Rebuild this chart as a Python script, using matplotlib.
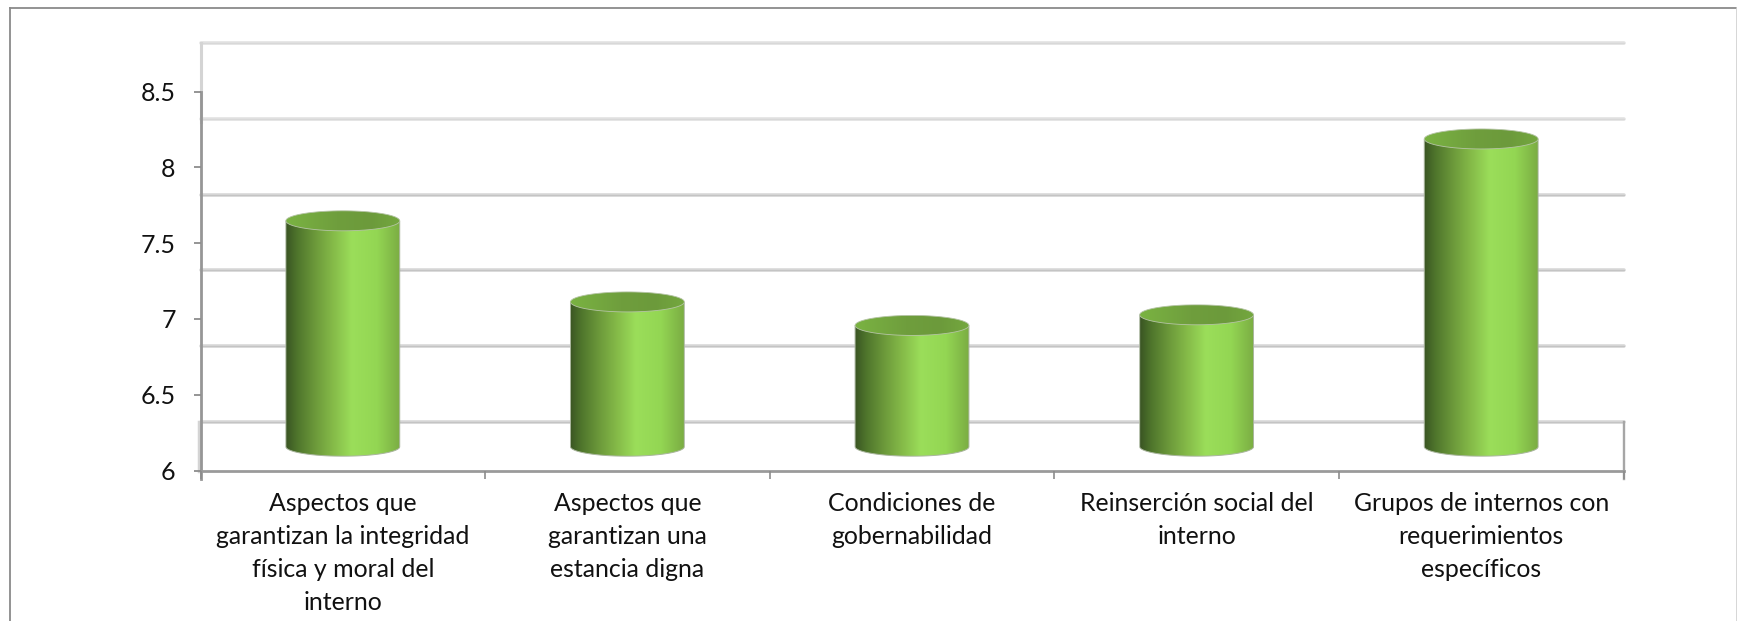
import numpy as np
import matplotlib
matplotlib.use("Agg")
import matplotlib.pyplot as plt
from matplotlib.colors import LinearSegmentedColormap
from matplotlib.lines import Line2D
from matplotlib.path import Path
from matplotlib.patches import PathPatch

categories = [
    "Aspectos que\ngarantizan la integridad\nfísica y moral del\ninterno",
    "Aspectos que\ngarantizan una\nestancia digna",
    "Condiciones de\ngobernabilidad",
    "Reinserción social del\ninterno",
    "Grupos de internos con\nrequerimientos\nespecíficos",
]
values = [7.49, 6.955, 6.80, 6.87, 8.03]
y_ticks = [6, 6.5, 7, 7.5, 8, 8.5]
y_labels = ["6", "6.5", "7", "7.5", "8", "8.5"]

W, H = 1737, 621
plt.rcParams["font.family"] = ["Lato", "DejaVu Sans"]
fig = plt.figure(figsize=(W / 100, H / 100), dpi=100, facecolor="white")
L, R, T, B = 200.5, 1623.5, 43, 470.5
ax = fig.add_axes([L / W, 1 - B / H, (R - L) / W, (B - T) / H])
px = 151.6                      # pixels per y unit
ax.set_ylim(6, 6 + (B - T) / px)
ax.set_xlim(-0.5, 4.5)
ax.patch.set_alpha(0)

wall = 48.5 / px    # back wall offset
mid = 23.8 / px     # bar depth offset
bw = 0.4
ry_top = 10 / px
ry_bot = 9.5 / px

for i, t in enumerate(y_ticks):
    col, core = ("#e2e2e2", "#d8d8d8") if t >= 8 else ("#d8d8d8", "#c4c4c4")
    ax.plot([-0.5, 4.5], [t + wall] * 2, color=col, lw=2.6, zorder=1,
            solid_capstyle="round", clip_on=False)
    ax.plot([-0.5, 4.5], [t + wall] * 2, color=core, lw=0.9, zorder=1.1,
            solid_capstyle="round", clip_on=False)

# walls and axes
ax.plot([-0.5, -0.5], [8.3, 6 + (B - T) / px], color="#d4d4d4", lw=2.2, zorder=1.2, clip_on=False)
ax.plot([-0.5 - 0.007] * 2, [6, 6 + wall], color="#d4d4d4", lw=2.5, zorder=1.2, clip_on=False)
ax.plot([4.5, 4.5], [6 - 8 / px, 6 + wall], color="#a6a6a6", lw=1.7, zorder=1.3, clip_on=False)
ax.plot([-0.5, -0.5], [6 - 8 / px, 8.5], color="#969696", lw=2.0, zorder=1.4, clip_on=False)
ax.plot([-0.5, 4.5], [6, 6], color="#9a9a9a", lw=2.0, zorder=1.4, clip_on=False)

for s in ax.spines.values():
    s.set_visible(False)

body_cm = LinearSegmentedColormap.from_list("body", [
    (0.00, "#3a5523"), (0.10, "#4f762c"), (0.25, "#6b983a"), (0.42, "#86bc49"),
    (0.58, "#9bde5a"), (0.80, "#93d653"), (1.00, "#7bad43")])
top_cm = LinearSegmentedColormap.from_list("top", [
    (0.00, "#7ab342"), (0.45, "#6f9e3d"), (0.75, "#6c9a3b"), (1.00, "#74a83f")])
grad = np.linspace(0, 1, 256).reshape(1, -1)

theta = np.linspace(0, np.pi, 80)
for i, v in enumerate(values):
    x0, x1 = i - bw / 2, i + bw / 2
    yb, yt = 6 + mid, v + mid
    # cylinder body: straight sides with the rounded lower edge
    xs = i - (bw / 2) * np.cos(theta)
    ys = yb - ry_bot * np.sin(theta)
    vx = np.r_[xs, x1, x0, x0]
    vy = np.r_[ys, yt, yt, yb]
    body = PathPatch(Path(np.c_[vx, vy]), facecolor="none", edgecolor="#a9b59d", lw=0.7, zorder=3.1)
    ax.add_patch(body)
    im = ax.imshow(grad, extent=[x0, x1, yb - ry_bot, yt], aspect="auto", cmap=body_cm, zorder=3)
    im.set_clip_path(body)
    # top face
    tx = i + (bw / 2) * np.cos(2 * theta)
    ty = yt + ry_top * np.sin(2 * theta)
    top = PathPatch(Path(np.c_[tx, ty]), facecolor="none", edgecolor="#b5c4a5", lw=0.6, zorder=4.1)
    ax.add_patch(top)
    im2 = ax.imshow(grad, extent=[x0, x1, yt - ry_top, yt + ry_top], aspect="auto", cmap=top_cm, zorder=4)
    im2.set_clip_path(top)

ax.set_xlim(-0.5, 4.5)
ax.set_ylim(6, 6 + (B - T) / px)

ax.set_yticks(y_ticks, y_labels, fontsize=18, color="#111111")
ax.tick_params(axis="y", length=5.4, width=1.3, color="#8c8c8c", pad=12.5)
ax.set_xticks(range(len(categories)), categories, fontsize=17.9, color="#111111", linespacing=1.53)
ax.tick_params(axis="x", which="major", length=0, pad=15.5)
ax.set_xticks(np.arange(-0.5, 5), minor=True)
ax.tick_params(axis="x", which="minor", length=5.8, width=1.2, color="#8c8c8c")

# outer frame
def fx(p): return p / W
def fy(p): return 1 - p / H
fig.add_artist(Line2D([fx(9.5), fx(9.5)], [fy(8), 0], color="#8a8a8a", lw=1.3))
fig.add_artist(Line2D([fx(9.5), 1], [fy(8), fy(8)], color="#8a8a8a", lw=1.3))
fig.add_artist(Line2D([fx(1736.5)] * 2, [fy(8), 0], color="#d0d0d0", lw=1.2))

fig.savefig("out.png", dpi=100, facecolor="white")
